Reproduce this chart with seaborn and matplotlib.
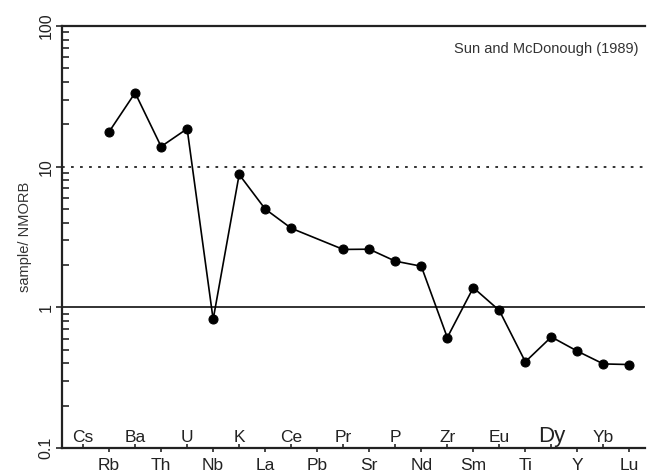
import matplotlib
matplotlib.use("Agg")
import matplotlib.pyplot as plt
import seaborn as sns
import pandas as pd

elements = ["Cs", "Rb", "Ba", "Th", "U", "Nb", "K", "La", "Ce", "Pb", "Pr",
            "Sr", "P", "Nd", "Zr", "Sm", "Eu", "Ti", "Dy", "Y", "Yb", "Lu"]
values = [None, 17.7, 33.5, 13.9, 18.6, 0.82, 8.8, 5.0, 3.65, None, 2.58,
          2.59, 2.13, 1.96, 0.61, 1.38, 0.95, 0.41, 0.616, 0.488, 0.396, 0.392]
y_ticks = [0.1, 1, 10, 100]
y_labels = ["0.1", "1", "10", "100"]
ref_text = "Sun and McDonough (1989)"
y_title = "sample/ NMORB"

sns.set_style("white")
plt.rcParams["font.family"] = ["Liberation Sans", "DejaVu Sans"]

df = pd.DataFrame({"pos": range(len(elements)), "element": elements, "value": values})
df = df.dropna()

fig = plt.figure(figsize=(6.5, 4.73), dpi=100)
ax = fig.add_axes([62 / 650, 1 - 448 / 473, (645 - 62) / 650, (448 - 26) / 473])

ax.axhline(10, color="#222222", lw=1.3, ls=(0, (1.5, 3.5)), zorder=1)
ax.axhline(1, color="#222222", lw=1.3, zorder=1)

sns.lineplot(data=df, x="pos", y="value", ax=ax, color="black", lw=1.2,
             marker="o", markersize=6.5, markeredgecolor="black",
             markerfacecolor="black", zorder=3)

ax.set_yscale("log")
ax.set_ylim(0.1, 100)
ax.set_xlim(-0.81, 21.6)

ax.set_yticks(y_ticks, labels=y_labels)
plt.setp(ax.get_yticklabels(), rotation=90, va="center", fontsize=11.5, color="#222222")
ax.tick_params(axis="y", which="major", direction="out", length=4, width=1.2, pad=2, left=True)
ax.tick_params(axis="y", which="minor", direction="in", length=5, width=1.2, left=True)

below = [i for i in range(len(elements)) if i % 2 == 1]
above = [i for i in range(len(elements)) if i % 2 == 0]
ax.set_xticks(below, labels=[elements[i] for i in below])
ax.set_xticks(above, labels=[elements[i] for i in above], minor=True)
ax.tick_params(axis="x", which="major", direction="out", length=3, width=1.2,
               pad=4.3, labelsize=12.5, bottom=True, labelcolor="#222222")
ax.tick_params(axis="x", which="minor", direction="in", length=3, width=1.2,
               pad=-4.3, labelsize=12.5, bottom=True, labelbottom=True, labelcolor="#222222")
for t in ax.get_xticklabels(minor=True):
    t.set_verticalalignment("baseline")
    if t.get_text() == "Dy":
        t.set_fontsize(16)

ax.set_xlabel("")
ax.set_ylabel(y_title, fontsize=10.5, color="#333333", labelpad=5)

for s in ["left", "bottom", "top"]:
    ax.spines[s].set_linewidth(1.6)
    ax.spines[s].set_color("#222222")
ax.spines["right"].set_visible(False)

ax.text(0.988, 0.945, ref_text, transform=ax.transAxes, ha="right", va="center",
        fontsize=10.5, color="#333333")

fig.savefig("out.png", dpi=100)
